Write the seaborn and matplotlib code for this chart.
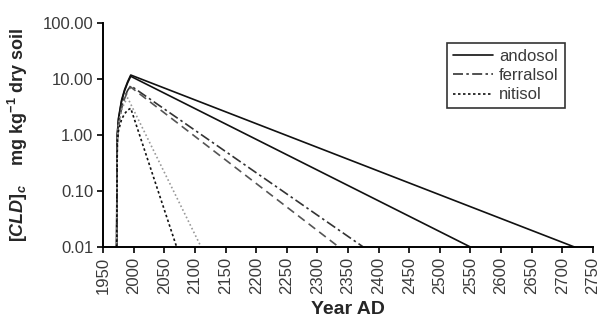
import numpy as np
import pandas as pd
import matplotlib
matplotlib.use("Agg")
import matplotlib.pyplot as plt
import seaborn as sns

# Values (log-scale lines: vertices only)
andosol_1_year = [1972, 1972.5, 1973, 1975, 1980, 1985, 1990, 1995, 2720]
andosol_1_conc = [0.01, 0.3, 1.0, 2.0, 4.2, 6.5, 9.0, 11.8, 0.01]
andosol_2_year = [1972, 1972.5, 1973, 1975, 1980, 1985, 1990, 1995, 2550]
andosol_2_conc = [0.01, 0.3, 1.0, 1.9, 4.0, 6.2, 8.6, 11.2, 0.01]

ferralsol_1_year = [1972, 1973, 1975, 1980, 1985, 1990, 1995, 2375]
ferralsol_1_conc = [0.01, 0.9, 1.6, 3.2, 4.8, 6.3, 7.6, 0.01]
ferralsol_2_year = [1972, 1973, 1975, 1980, 1985, 1990, 1995, 2335]
ferralsol_2_conc = [0.01, 0.8, 1.4, 3.0, 4.5, 6.0, 7.2, 0.01]

nitisol_1_year = [1972, 1973, 1975, 1980, 1985, 1990, 2110]
nitisol_1_conc = [0.01, 0.8, 1.5, 2.8, 3.8, 4.6, 0.01]
nitisol_2_year = [1972, 1973, 1975, 1980, 1985, 1990, 1995, 2070]
nitisol_2_conc = [0.01, 0.7, 1.2, 1.9, 2.4, 2.8, 3.0, 0.01]

x_ticks = list(range(1950, 2751, 50))
y_ticks = [0.01, 0.1, 1, 10, 100]
y_tick_labels = ["0.01", "0.10", "1.00", "10.00", "100.00"]

sns.set_style("ticks")
plt.rcParams["font.family"] = ["Liberation Sans", "DejaVu Sans"]
plt.rcParams["mathtext.fontset"] = "custom"
plt.rcParams["mathtext.rm"] = "Liberation Sans:bold"
plt.rcParams["mathtext.it"] = "Liberation Sans:italic:bold"
plt.rcParams["mathtext.bf"] = "Liberation Sans:bold"

fig, ax = plt.subplots(figsize=(6, 3.25), dpi=100)
fig.subplots_adjust(left=0.172, right=0.988, top=0.929, bottom=0.24)

series = [
    (andosol_1_year, andosol_1_conc, "#111111", "-", "andosol"),
    (andosol_2_year, andosol_2_conc, "#111111", "-", None),
    (ferralsol_1_year, ferralsol_1_conc, "#333333", (0, (6, 2, 1.5, 2)), "ferralsol"),
    (ferralsol_2_year, ferralsol_2_conc, "#555555", (0, (5, 3)), None),
    (nitisol_1_year, nitisol_1_conc, "#999999", (0, (1, 1.5)), None),
    (nitisol_2_year, nitisol_2_conc, "#111111", (0, (1.5, 1.5)), "nitisol"),
]

for yrs, conc, col, ls, lab in series:
    sns.lineplot(x=yrs, y=conc, ax=ax, color=col, linestyle=ls, linewidth=1.2,
                 label=lab, sort=False, estimator=None)

ax.set_yscale("log")
ax.set_xlim(1950, 2750)
ax.set_ylim(0.01, 100)
ax.set_xticks(x_ticks)
ax.set_xticklabels([str(t) for t in x_ticks], rotation=90, fontsize=12, color="#3a3a3a")
ax.set_yticks(y_ticks)
ax.set_yticklabels(y_tick_labels, fontsize=12, color="#3a3a3a")
ax.minorticks_off()
ax.tick_params(axis="both", direction="out", length=4, width=1.2, color="black", pad=3)
for s in ["left", "bottom"]:
    ax.spines[s].set_linewidth(1.4)
    ax.spines[s].set_color("black")
sns.despine(ax=ax)

ax.set_xlabel("Year AD", fontsize=14, fontweight="bold", labelpad=5)
ax.set_ylabel(r"[$\it{CLD}$]$_c$    mg kg$^{-1}$ dry soil", fontsize=13,
              fontweight="bold", labelpad=9)

h, l = ax.get_legend_handles_labels()
leg = ax.legend(h, l, loc="upper left", bbox_to_anchor=(0.703, 0.91),
                frameon=True, fancybox=False, edgecolor="black", fontsize=12,
                handlelength=2.4, handletextpad=0.35, borderpad=0.35,
                labelspacing=0.25, borderaxespad=0)
leg.get_frame().set_linewidth(1.2)
for t in leg.get_texts():
    t.set_color("#3a3a3a")

fig.savefig("out.png", dpi=100)
